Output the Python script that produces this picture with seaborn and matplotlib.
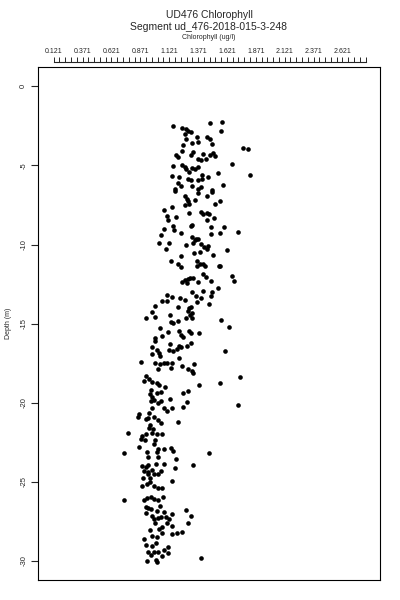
import numpy as np
import pandas as pd
import matplotlib
matplotlib.use("Agg")
import matplotlib.pyplot as plt
import seaborn as sns

# chlorophyll (ug/l) and depth (m)
chl = [1.157, 1.235, 1.264, 1.281, 1.310, 1.258, 1.475, 1.581, 1.570, 1.264,
       1.359, 1.446, 1.475, 1.322, 1.368, 1.489, 1.244, 1.763, 1.806, 1.229,
       1.330, 1.177, 1.200, 1.310, 1.417, 1.475, 1.503, 1.518, 1.368, 1.397,
       1.437, 1.668, 1.157, 1.229, 1.258, 1.264, 1.322, 1.345, 1.368, 1.293,
       1.408, 1.460, 1.547, 1.821, 1.143, 1.209, 1.287, 1.310, 1.368, 1.408,
       1.195, 1.223, 1.322, 1.397, 1.590, 1.489, 1.172, 1.368,
       1.172, 1.258, 1.272, 1.287, 1.258, 1.293, 1.345, 1.368, 1.446, 1.489,
       1.518, 1.561, 1.079, 1.143, 1.099, 1.114, 1.177, 1.293, 1.397, 1.417,
       1.446, 1.466, 1.446, 1.512, 1.079, 1.157, 1.166, 1.310, 1.322, 1.483,
       1.599, 1.050, 1.223, 1.322, 1.350, 1.368, 1.483, 1.561, 1.714, 1.033,
       1.120, 1.091, 1.264, 1.330, 1.345, 1.397, 1.426, 1.446, 1.454, 1.619,
       1.336, 1.388, 1.503, 1.223, 1.137, 1.200, 1.359, 1.388, 1.417, 1.561,
       1.223, 1.359, 1.431, 1.552, 1.417, 1.437, 1.662, 1.685, 1.483, 1.229,
       1.258, 1.281, 1.301, 1.330, 1.272, 1.368, 1.541, 1.417, 1.489, 1.483,
       1.316, 1.350, 1.397, 1.359, 1.466, 1.099, 1.148, 1.215, 1.258, 1.062,
       1.099, 0.998, 1.195, 1.293, 1.310, 0.969, 0.998, 0.918, 1.128, 1.281,
       1.301, 1.322, 1.316, 1.264, 1.195, 1.157, 1.137, 1.570, 1.042, 1.108,
       0.998, 1.056, 1.206, 1.223, 1.244, 1.293, 1.310, 1.379, 1.639,
       0.998, 1.128, 0.975, 1.013, 1.033, 0.975, 1.042, 1.120, 1.157, 1.186,
       1.206, 1.223, 1.272, 1.310, 1.604, 1.206, 0.877, 0.998, 1.042, 1.079,
       1.099, 1.143, 1.021, 1.137, 1.235, 1.281, 1.322, 1.339, 1.330, 0.918,
       0.906, 0.946, 0.975, 1.013, 1.033, 1.085, 1.379, 1.561, 1.734, 0.964,
       0.955, 0.975, 1.013, 1.050, 1.244, 1.281, 0.993, 0.964, 1.021, 1.050,
       1.128, 1.272, 0.975, 1.079, 1.099, 1.148, 1.244, 1.714, 0.860, 0.946,
       0.848, 0.918, 0.941, 0.993, 1.021, 1.050, 1.200, 0.955, 0.946, 0.984,
       0.762, 0.889, 0.877, 0.912, 0.918, 0.975, 1.013, 1.056, 0.998, 0.993,
       0.860, 1.079, 1.021, 1.137, 1.157, 0.926, 0.941, 1.013, 1.021, 0.733,
       1.466, 1.177, 0.883, 0.918, 0.941, 1.004, 1.079, 1.172, 1.330, 0.906,
       0.935, 0.969, 1.050, 0.941, 0.993, 1.021, 0.897, 0.955, 1.143, 0.883,
       0.926, 0.955, 0.993, 1.056, 1.021,
       0.733, 0.906, 0.926, 0.964, 0.993, 1.021, 1.070, 0.918, 0.941, 0.964,
       1.013, 1.042, 1.079, 1.143, 1.264, 1.310, 0.918, 0.969, 0.993, 1.021,
       1.050, 1.091, 1.120, 0.998, 1.099, 1.148, 1.281, 1.056, 1.033, 0.955,
       1.062, 1.148, 1.186, 1.229, 0.969, 1.013, 0.906, 1.004, 0.918, 0.969,
       1.114, 0.941, 0.993, 1.027, 1.079, 1.108, 0.964, 1.056, 0.926, 1.004,
       1.397, 1.013]

depth = [-2.50, -2.63, -2.71, -2.84, -2.88, -2.99, -2.29, -2.25, -2.84, -3.30,
         -3.20, -3.20, -3.30, -3.56, -3.51, -3.62, -3.72, -3.89, -3.98, -4.10,
         -4.15, -4.31, -4.46, -4.31, -4.25, -4.31, -4.19, -4.40, -4.57, -4.67,
         -4.57, -4.88, -5.03, -4.99, -5.09, -5.24, -5.16, -5.24, -5.09, -5.41,
         -5.58, -5.72, -5.45, -5.58, -5.68, -5.72, -5.83, -5.93, -5.93, -5.87,
         -6.14, -6.29, -6.29, -6.35, -6.25, -6.57, -6.50, -6.50,
         -6.61, -6.94, -7.09, -7.24, -7.51, -7.41, -7.16, -6.73, -6.94, -6.67,
         -7.45, -7.24, -7.83, -7.62, -8.21, -8.46, -8.29, -7.98, -7.93, -8.08,
         -7.98, -8.08, -8.46, -8.35, -8.99, -8.84, -9.05, -8.84, -8.78, -8.92,
         -8.92, -9.41, -9.30, -9.51, -9.68, -9.62, -9.34, -9.30, -9.20, -9.89,
         -9.89, -10.25, -10.04, -9.89, -9.72, -9.97, -10.18, -10.31, -10.10, -10.35,
         -10.52, -10.46, -10.67, -10.73, -11.03, -11.20, -11.03, -11.20, -11.24, -11.36,
         -11.41, -11.34, -11.34, -11.34, -11.89, -12.04, -11.97, -12.31, -12.31, -12.35,
         -12.25, -12.18, -12.14, -12.14, -12.46, -12.39, -12.73, -12.94, -13.03, -13.24,
         -13.03, -13.24, -13.40, -13.66, -13.78, -13.19, -13.30, -13.36, -13.51, -13.57,
         -13.57, -13.87, -13.93, -14.04, -13.93, -14.29, -14.56, -14.67, -14.46, -14.20,
         -14.46, -14.35, -14.67, -14.67, -14.83, -14.98, -14.88, -14.77, -15.26, -15.55,
         -15.89, -15.76, -15.47, -15.72, -15.82, -15.47, -15.61, -15.61, -15.19,
         -16.08, -16.29, -16.50, -16.67, -16.88, -16.92, -17.04, -16.67, -16.71, -16.62,
         -16.41, -16.50, -16.41, -16.25, -16.71, -17.19, -17.40, -17.51, -17.55, -17.51,
         -17.47, -17.47, -17.89, -17.82, -17.68, -17.89, -17.97, -17.55, -18.10, -18.31,
         -18.60, -18.52, -18.67, -18.73, -18.88, -19.02, -18.88, -18.73, -18.39, -19.19,
         -19.44, -19.61, -19.40, -19.30, -19.36, -19.23, -19.82, -19.86, -19.99, -19.86,
         -19.78, -19.93, -20.35, -20.35, -20.50, -20.35, -20.24, -20.14, -20.71, -20.62,
         -20.88, -21.02, -20.94, -20.88, -21.09, -21.30, -21.23, -21.40, -21.61, -21.65,
         -21.93, -22.07, -22.28, -22.35, -21.99, -21.93, -21.99, -21.99, -22.35, -22.62,
         -22.77, -22.92, -22.92, -22.87, -23.04, -23.08, -23.40, -23.13, -23.40, -23.19,
         -23.19, -23.55, -23.97, -24.03, -23.93, -23.88, -23.88, -24.09, -23.93, -24.30,
         -24.39, -24.24, -24.30, -24.52, -24.52, -24.52, -24.73, -24.77, -24.94, -25.23,
         -25.15, -25.02, -25.23, -25.36, -25.36,
         -26.14, -26.14, -26.03, -25.97, -26.09, -26.14, -25.97, -26.56, -26.66, -26.73,
         -26.81, -26.51, -26.87, -27.02, -26.77, -27.15, -26.98, -27.15, -27.36, -27.29,
         -27.23, -27.19, -27.36, -27.61, -27.61, -27.78, -27.61, -27.86, -27.99, -28.07,
         -28.20, -28.28, -28.24, -28.14, -28.41, -28.45, -28.62, -28.83, -28.98, -29.08,
         -29.12, -29.46, -29.40, -29.46, -29.33, -29.50, -29.61, -29.67, -29.97, -29.92,
         -29.82, -30.03]

df = pd.DataFrame({"chl": chl, "depth": depth})

sns.set_style("white")
plt.rcParams["font.family"] = ["Liberation Sans", "DejaVu Sans"]

fig = plt.figure(figsize=(4, 6), dpi=100)
ax = fig.add_axes([0.0958, 0.0333, 0.8542, 0.8545])

sns.scatterplot(data=df, x="chl", y="depth", color="black", s=11,
                linewidth=0, ax=ax, legend=False)

ax.set_xlim(-0.012, 2.946)
ax.set_ylim(-31.2, 1.2)
for sp in ax.spines.values():
    sp.set_color("black")
    sp.set_linewidth(0.8)

# no bottom x axis, just the box
ax.set_xticks([])
ax.set_xlabel("")

# y axis
ax.set_yticks([0, -5, -10, -15, -20, -25, -30])
ax.set_yticklabels(["0", "-5", "-10", "-15", "-20", "-25", "-30"],
                   rotation=90, va="center", fontsize=5.5)
ax.tick_params(axis="y", direction="out", length=5, width=0.8, pad=3, left=True)
ax.set_ylabel("Depth (m)", fontsize=5, labelpad=6)

# top axis, slightly detached from the box, line only spans the ticks
sec = ax.secondary_xaxis("top")
sec.spines["top"].set_position(("outward", 4))
sec.spines["top"].set_linewidth(0.8)
minor = np.round(np.arange(0.121, 2.822, 0.05), 3)
major = np.round(np.arange(0.121, 2.622, 0.25), 3)
sec.spines["top"].set_bounds(minor[0], minor[-1])
sec.set_xticks(minor, minor=True)
sec.set_xticks(major)
sec.set_xticklabels([f"{v:.3f}" for v in major], fontsize=5)
sec.tick_params(axis="x", which="both", direction="out", length=3.5,
                width=0.7, pad=1.5)
sec.tick_params(axis="x", which="minor", labeltop=False)

fig.text(0.5225, 0.975, "UD476 Chlorophyll", ha="center", va="center", fontsize=7.5)
fig.text(0.5225, 0.9555, "Segment ud_476-2018-015-3-248", ha="center", va="center",
         fontsize=7.5)
fig.text(0.5225, 0.937, "Chlorophyll (ug/l)", ha="center", va="center", fontsize=5)

fig.savefig("out.png", dpi=100)
